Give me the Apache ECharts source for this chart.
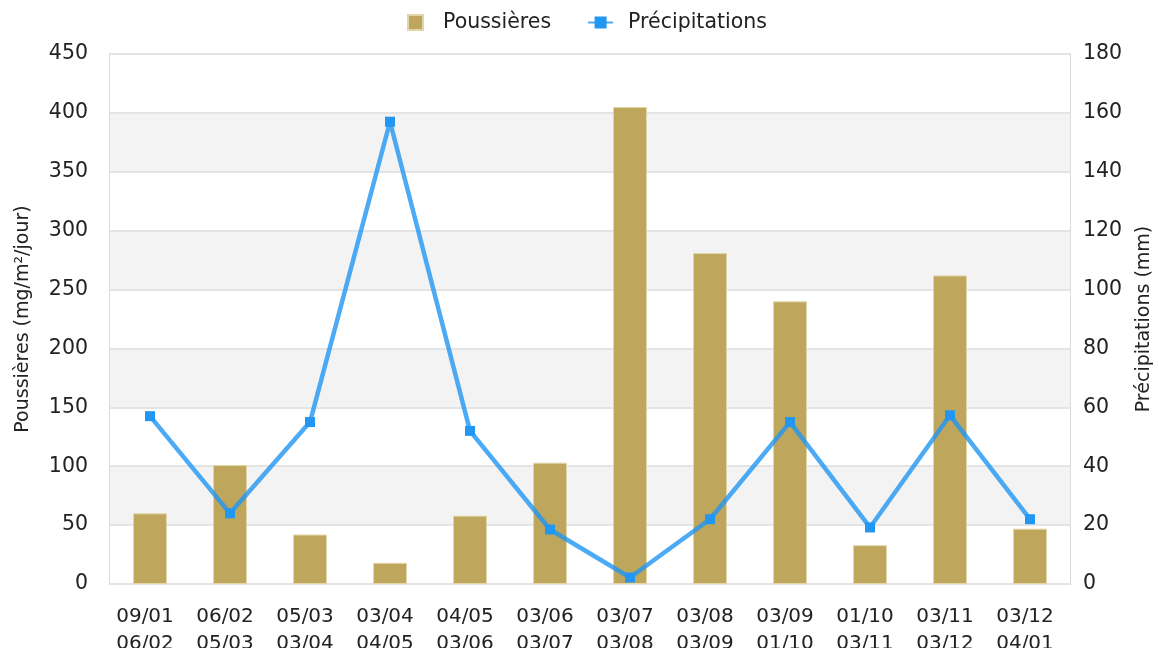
<!DOCTYPE html>
<html>
<head>
<meta charset="utf-8">
<script src="https://cdn.jsdelivr.net/npm/echarts@6/dist/echarts.min.js"></script>
<style>
html,body{margin:0;padding:0;background:#fff;overflow:hidden;}
#chart{width:1159px;height:648px;}
</style>
</head>
<body>
<div id="chart"></div>
<script>
const periodStart = ['09/01','06/02','05/03','03/04','04/05','03/06','03/07','03/08','03/09','01/10','03/11','03/12'];
const periodEnd   = ['06/02','05/03','03/04','04/05','03/06','03/07','03/08','03/09','01/10','03/11','03/12','04/01'];
const poussieres = [60, 101, 42, 18, 58, 103, 405, 281, 240, 33, 262, 47];
const precipitations = [57, 24, 55, 157, 52, 18.5, 2.2, 22, 55, 19.2, 57.3, 22];
const leftTicks = {min: 0, max: 450, interval: 50};
const rightTicks = {min: 0, max: 180, interval: 20};

const categories = periodStart.map((s, i) => s + '\n' + periodEnd[i]);
const FONT = 'DejaVu Sans';
const chart = echarts.init(document.getElementById('chart'));
chart.setOption({
  animation: false,
  textStyle: {fontFamily: FONT},
  legend: {
    top: 7,
    left: 402,
    itemGap: 36,
    itemWidth: 25,
    itemHeight: 15,
    textStyle: {fontSize: 20.5, color: '#222', fontFamily: FONT, padding: [0, 0, 0, 10]},
    data: [
      {name: 'Poussières', icon: 'path://M0 0H10V10H0Z'},
      {name: 'Précipitations'}
    ]
  },
  grid: {
    left: 110, width: 960, top: 54, height: 530,
    outerBoundsMode: 'none',
    containLabel: false,
    show: true, borderColor: '#dcdcdc', borderWidth: 2, backgroundColor: 'transparent'
  },
  xAxis: {
    type: 'category',
    data: categories,
    axisLine: {show: false},
    axisTick: {show: false},
    axisLabel: {color: '#222', fontSize: 20, lineHeight: 27, margin: 19, fontFamily: FONT, interval: 0, padding: [0, 10, 0, 0]}
  },
  yAxis: [
    {
      type: 'value',
      min: leftTicks.min, max: leftTicks.max, interval: leftTicks.interval,
      name: 'Poussières (mg/m²/jour)',
      nameLocation: 'middle',
      nameRotate: 90,
      nameGap: 77,
      nameTextStyle: {fontSize: 19, color: '#222', fontFamily: FONT},
      axisLine: {show: false},
      axisTick: {show: false},
      axisLabel: {color: '#222', fontSize: 20.5, margin: 22, fontFamily: FONT},
      splitLine: {show: true, lineStyle: {color: '#e4e4e4', width: 2}},
      splitArea: {show: true, areaStyle: {color: ['#ffffff', '#f3f3f3']}}
    },
    {
      type: 'value',
      position: 'right',
      min: rightTicks.min, max: rightTicks.max, interval: rightTicks.interval,
      name: 'Précipitations (mm)',
      nameLocation: 'middle',
      nameRotate: 90,
      nameGap: 65,
      nameTextStyle: {fontSize: 19, color: '#222', fontFamily: FONT},
      axisLine: {show: false},
      axisTick: {show: false},
      axisLabel: {color: '#222', fontSize: 20.5, margin: 13, fontFamily: FONT},
      splitLine: {show: false},
      splitArea: {show: false}
    }
  ],
  series: [
    {
      name: 'Poussières',
      type: 'bar',
      yAxisIndex: 0,
      data: poussieres,
      barWidth: 34,
      itemStyle: {color: '#bea75d', borderColor: '#e3d6a6', borderWidth: 1}
    },
    {
      name: 'Précipitations',
      type: 'line',
      yAxisIndex: 1,
      data: precipitations,
      symbol: 'rect',
      symbolSize: 10,
      itemStyle: {color: '#2196f3'},
      lineStyle: {color: '#2196f3', width: 4.5, opacity: 0.8}
    }
  ]
});
</script>
</body>
</html>
